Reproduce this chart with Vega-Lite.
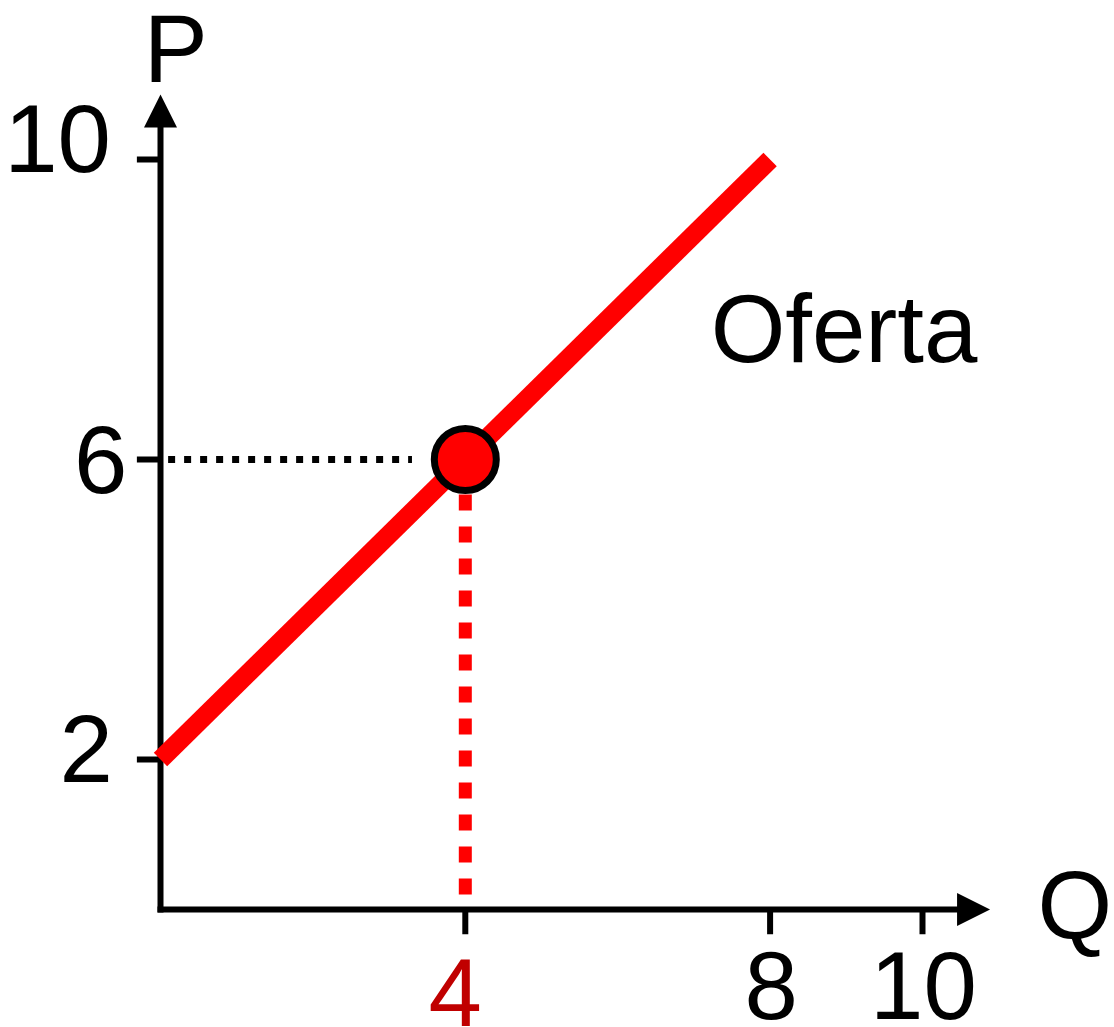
{
  "$schema": "https://vega.github.io/schema/vega-lite/v6.json",
  "width": 1114,
  "height": 1027,
  "autosize": {"type": "none"},
  "padding": 0,
  "background": "white",
  "config": {"view": {"stroke": null}, "text": {"font": "Liberation Sans", "fontSize": 96}},
  "layer": [
    {
      "data": {"values": [{"q": 0, "p": 0, "p2": 10.55}]},
      "mark": {"type": "rule", "color": "black", "strokeWidth": 6, "strokeCap": "square"},
      "encoding": {
        "x": {"field": "q", "type": "quantitative", "scale": {"domain": [-2.1063, 12.5131], "nice": false, "zero": false}, "axis": null},
        "y": {"field": "p", "type": "quantitative", "scale": {"domain": [-1.5667, 12.1267], "nice": false, "zero": false}, "axis": null},
        "y2": {"field": "p2"}
      }
    },
    {
      "data": {"values": [{"q": 0, "q2": 10.5, "p": 0}]},
      "mark": {"type": "rule", "color": "black", "strokeWidth": 6, "strokeCap": "square"},
      "encoding": {
        "x": {"field": "q", "type": "quantitative", "axis": null},
        "x2": {"field": "q2"},
        "y": {"field": "p", "type": "quantitative", "axis": null}
      }
    },
    {
      "data": {"values": [{"q": 0, "p": 10.647}]},
      "mark": {"type": "point", "shape": "M0,-1L1,1L-1,1Z", "size": 1089, "filled": true, "color": "black", "opacity": 1},
      "encoding": {
        "x": {"field": "q", "type": "quantitative", "axis": null},
        "y": {"field": "p", "type": "quantitative", "axis": null}
      }
    },
    {
      "data": {"values": [{"q": 10.67, "p": 0}]},
      "mark": {"type": "point", "shape": "M1,0L-1,-1L-1,1Z", "size": 1089, "filled": true, "color": "black", "opacity": 1},
      "encoding": {
        "x": {"field": "q", "type": "quantitative", "axis": null},
        "y": {"field": "p", "type": "quantitative", "axis": null}
      }
    },
    {
      "data": {"values": [{"p": 2}, {"p": 6}, {"p": 10}]},
      "mark": {"type": "rule", "color": "black", "strokeWidth": 6},
      "encoding": {
        "x": {"datum": -0.31, "type": "quantitative", "axis": null},
        "x2": {"datum": 0},
        "y": {"field": "p", "type": "quantitative", "axis": null}
      }
    },
    {
      "data": {"values": [{"q": 4}, {"q": 8}, {"q": 10}]},
      "mark": {"type": "rule", "color": "black", "strokeWidth": 6},
      "encoding": {
        "x": {"field": "q", "type": "quantitative", "axis": null},
        "y": {"datum": 0, "type": "quantitative", "axis": null},
        "y2": {"datum": -0.33}
      }
    },
    {
      "data": {"values": [{"q": 0.1, "q2": 3.3, "p": 6}]},
      "mark": {"type": "rule", "color": "black", "strokeWidth": 7, "strokeDash": [7, 9]},
      "encoding": {
        "x": {"field": "q", "type": "quantitative", "axis": null},
        "x2": {"field": "q2"},
        "y": {"field": "p", "type": "quantitative", "axis": null}
      }
    },
    {
      "data": {"values": [{"q": 4, "p": 0.2, "p2": 6}]},
      "mark": {"type": "rule", "color": "#FF0000", "strokeWidth": 13, "strokeDash": [16, 16]},
      "encoding": {
        "x": {"field": "q", "type": "quantitative", "axis": null},
        "y": {"field": "p", "type": "quantitative", "axis": null},
        "y2": {"field": "p2"}
      }
    },
    {
      "data": {"values": [{"q": 0, "p": 2}, {"q": 8, "p": 10}]},
      "mark": {"type": "line", "color": "#FF0000", "strokeWidth": 19, "strokeCap": "butt"},
      "encoding": {
        "x": {"field": "q", "type": "quantitative", "axis": null},
        "y": {"field": "p", "type": "quantitative", "axis": null}
      }
    },
    {
      "data": {"values": [{"q": 4, "p": 6}]},
      "mark": {"type": "point", "shape": "circle", "size": 3844, "filled": true, "fill": "#FF0000", "stroke": "black", "strokeWidth": 7, "opacity": 1},
      "encoding": {
        "x": {"field": "q", "type": "quantitative", "axis": null},
        "y": {"field": "p", "type": "quantitative", "axis": null}
      }
    },
    {
      "data": {"values": [{"p": 10, "label": "10"}]},
      "mark": {"type": "text", "align": "right", "baseline": "alphabetic", "dx": -49.5, "dy": 12.5, "color": "black"},
      "encoding": {
        "x": {"datum": 0, "type": "quantitative", "axis": null},
        "y": {"field": "p", "type": "quantitative", "axis": null},
        "text": {"field": "label"}
      }
    },
    {
      "data": {"values": [{"p": 6, "label": "6"}]},
      "mark": {"type": "text", "align": "right", "baseline": "alphabetic", "dx": -33, "dy": 33.5, "color": "black"},
      "encoding": {
        "x": {"datum": 0, "type": "quantitative", "axis": null},
        "y": {"field": "p", "type": "quantitative", "axis": null},
        "text": {"field": "label"}
      }
    },
    {
      "data": {"values": [{"p": 2, "label": "2"}]},
      "mark": {"type": "text", "align": "right", "baseline": "alphabetic", "dx": -47.5, "dy": 22.5, "color": "black"},
      "encoding": {
        "x": {"datum": 0, "type": "quantitative", "axis": null},
        "y": {"field": "p", "type": "quantitative", "axis": null},
        "text": {"field": "label"}
      }
    },
    {
      "data": {"values": [{"q": 4, "label": "4"}]},
      "mark": {"type": "text", "align": "center", "baseline": "alphabetic", "dx": -10, "dy": 116.5, "color": "#C00000"},
      "encoding": {
        "x": {"field": "q", "type": "quantitative", "axis": null},
        "y": {"datum": 0, "type": "quantitative", "axis": null},
        "text": {"field": "label"}
      }
    },
    {
      "data": {"values": [{"q": 8, "label": "8"}, {"q": 10, "label": "10"}]},
      "mark": {"type": "text", "align": "center", "baseline": "alphabetic", "dx": 1, "dy": 109.5, "color": "black"},
      "encoding": {
        "x": {"field": "q", "type": "quantitative", "axis": null},
        "y": {"datum": 0, "type": "quantitative", "axis": null},
        "text": {"field": "label"}
      }
    },
    {
      "data": {"values": [{"q": 0.2, "p": 11.03, "label": "P"}, {"q": 12.0, "p": -0.4, "label": "Q"}, {"q": 8.97, "p": 7.3, "label": "Oferta"}]},
      "mark": {"type": "text", "align": "center", "baseline": "alphabetic", "color": "black"},
      "encoding": {
        "x": {"field": "q", "type": "quantitative", "axis": null},
        "y": {"field": "p", "type": "quantitative", "axis": null},
        "text": {"field": "label"}
      }
    }
  ]
}
